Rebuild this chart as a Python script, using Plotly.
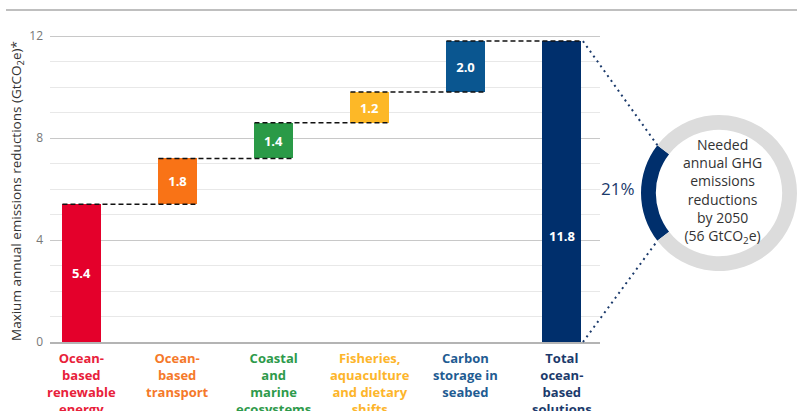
import math
import plotly.graph_objects as go

# ---------------- data ----------------
categories = [
    "Ocean-<br>based<br>renewable<br>energy",
    "Ocean-<br>based<br>transport",
    "Coastal<br>and<br>marine<br>ecosystems",
    "Fisheries,<br>aquaculture<br>and dietary<br>shifts",
    "Carbon<br>storage in<br>seabed",
    "Total<br>ocean-<br>based<br>solutions",
]
values = [5.4, 1.8, 1.4, 1.2, 2.0]
total_value = 11.8
value_labels = ["5.4", "1.8", "1.4", "1.2", "2.0", ""]
total_label = "11.8"
total_label_y = 4.15
bar_colors = ["#E4002B", "#F97316", "#2A9A47", "#FDB827", "#0A5690", "#002F6C"]
label_colors = ["#E8213A", "#F5792A", "#2E9A4B", "#FDB52B", "#1F5C92", "#1B3A6B"]
y_ticks = [0, 4, 8, 12]
share_pct = 21
needed_total = 56

# ---------------- layout geometry ----------------
W, H = 797, 411
ML, MR, MT, MB = 50, 0, 27, 69
PW = W - ML - MR
PH = H - MT - MB
plot_bottom = H - MB
x_domain_end = (600 - ML) / PW
x_range = [-0.333, -0.333 + 550 / 96]
y_range = [0, PH / 25.5]
bar_w = 0.406

def fx(px):
    return (px - ML) / PW

def fy(py):
    return (plot_bottom - py) / PH

# waterfall bases
bases, tops = [], []
cum = 0.0
for v in values:
    bases.append(cum)
    cum += v
    tops.append(cum)
x_idx = list(range(len(categories)))
bar_base = bases + [0]
bar_len = values + [total_value]

fig = go.Figure()
fig.add_trace(go.Bar(
    x=x_idx, y=bar_len, base=bar_base, width=bar_w,
    marker=dict(color=bar_colors, line=dict(width=0)),
    text=value_labels, textposition="inside", insidetextanchor="middle",
    textangle=0, constraintext="none",
    textfont=dict(color="white", size=13, family="Open Sans", weight="bold"),
    hoverinfo="skip", showlegend=False,
))

# donut
pie_cx, pie_cy, pie_r = 719, 193, 78
half_angle = share_pct / 100 * 360 / 2
fig.add_trace(go.Pie(
    values=[share_pct, 100 - share_pct], sort=False, direction="clockwise",
    rotation=270 - half_angle, hole=0.81,
    marker=dict(colors=["#002F6C", "#DCDCDC"], line=dict(width=0)),
    textinfo="none", hoverinfo="skip", showlegend=False,
    domain=dict(x=[fx(pie_cx - pie_r), fx(pie_cx + pie_r)],
                y=[fy(pie_cy + pie_r), fy(pie_cy - pie_r)]),
))

shapes = []
# dashed connectors
for i, t in enumerate(tops):
    shapes.append(dict(type="line", xref="x", yref="y",
                       x0=i - bar_w / 2, x1=i + 1 + bar_w / 2, y0=t, y1=t,
                       line=dict(color="#111111", width=1.5, dash="5px,3px")))

# dotted lines from total bar to donut arc ends
def x_to_paper(xv):
    return x_domain_end * (xv - x_range[0]) / (x_range[1] - x_range[0])

def y_to_paper(yv):
    return (yv - y_range[0]) / (y_range[1] - y_range[0])

bar_right = x_to_paper(len(categories) - 1 + bar_w / 2)
a = math.radians(half_angle)
arc_x = fx(pie_cx - pie_r * math.cos(a))
arc_top_y = fy(pie_cy - pie_r * math.sin(a))
arc_bot_y = fy(pie_cy + pie_r * math.sin(a))
for y0, y1 in [(y_to_paper(total_value), arc_top_y), (y_to_paper(0), arc_bot_y)]:
    shapes.append(dict(type="line", xref="paper", yref="paper",
                       x0=bar_right + 0.002, x1=arc_x, y0=y0, y1=y1,
                       line=dict(color="#1B3A6B", width=2, dash="2px,4px")))

# top rule
shapes.append(dict(type="line", xref="paper", yref="paper",
                   x0=fx(6), x1=1.0, y0=fy(10), y1=fy(10),
                   line=dict(color="#AAAAAA", width=1.5)))

annotations = []
for i, (c, col) in enumerate(zip(categories, label_colors)):
    annotations.append(dict(x=i, xref="x", y=0, yref="paper", yanchor="top",
                            xanchor="center",
                            yshift=-5, text=c, showarrow=False, align="center",
                            font=dict(family="Open Sans", size=13, color=col, weight="bold")))

annotations.append(dict(x=len(categories) - 1, xref="x", y=total_label_y, yref="y",
                        xanchor="center", yanchor="middle", text=total_label,
                        showarrow=False,
                        font=dict(family="Open Sans", size=13, color="white", weight="bold")))

annotations.append(dict(x=fx(17), y=fy(191), xref="paper", yref="paper",
                        text="Maxium annual emissions reductions (GtCO<sub>2</sub>e)*",
                        textangle=-90, showarrow=False, xanchor="center", yanchor="middle",
                        font=dict(family="Open Sans", size=13.5, color="#333333")))
annotations.append(dict(x=fx(618), y=fy(189), xref="paper", yref="paper",
                        xanchor="center", yanchor="middle",
                        text=f"{share_pct}%", showarrow=False,
                        font=dict(family="Open Sans", size=17, color="#1B3A6B")))
annotations.append(dict(x=fx(722), y=fy(191), xref="paper", yref="paper",
                        xanchor="center", yanchor="middle",
                        text=("Needed<br>annual GHG<br>emissions<br>reductions<br>by 2050<br>"
                              f"({needed_total} GtCO<sub>2</sub>e)"),
                        showarrow=False, align="center",
                        font=dict(family="Open Sans", size=14, color="#333333")))

fig.update_layout(
    width=W, height=H,
    margin=dict(l=ML, r=MR, t=MT, b=MB, pad=0, autoexpand=False),
    paper_bgcolor="white", plot_bgcolor="white",
    bargap=0,
    xaxis=dict(domain=[0, x_domain_end], range=x_range, showticklabels=False,
               showgrid=False, zeroline=False, showline=True,
               linecolor="#B4B4B4", linewidth=1.5, ticks="", fixedrange=True),
    yaxis=dict(range=y_range, tickvals=y_ticks, showgrid=True,
               gridcolor="#C8C8C8", gridwidth=1.2, zeroline=False,
               showline=False, ticks="", ticklabelstandoff=6,
               tickfont=dict(family="Open Sans", size=12, color="#777777"),
               minor=dict(dtick=1, showgrid=True, gridcolor="#E8E8E8", gridwidth=1),
               fixedrange=True),
    shapes=shapes,
    annotations=annotations,
    font=dict(family="Open Sans"),
)

fig.write_html("out.html")
